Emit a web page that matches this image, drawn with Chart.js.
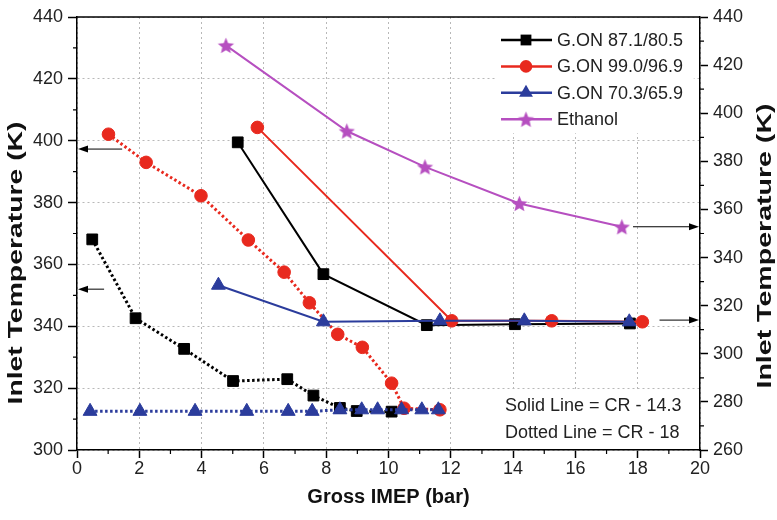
<!DOCTYPE html>
<html>
<head>
<meta charset="utf-8">
<script src="https://cdn.jsdelivr.net/npm/chart.js@4/dist/chart.umd.min.js"></script>
<style>
html, body { margin: 0; padding: 0; background: #fff; }
</style>
</head>
<body>
<canvas id="imepChart" width="777" height="520"></canvas>
<script>
// Dotted lines (CR 18) -> left axis
const xBlack18 = [0.49, 1.88, 3.44, 5.01, 6.75, 7.59, 8.44, 8.98, 10.1];
const tBlack18 = [368.1, 342.6, 332.7, 322.3, 322.9, 317.6, 313.6, 312.6, 312.4];
const xRed18 = [1.01, 2.22, 3.98, 5.5, 6.65, 7.46, 8.37, 9.16, 10.1, 10.5, 11.65];
const tRed18 = [402.1, 393.0, 382.2, 367.9, 357.5, 347.6, 337.4, 333.2, 321.6, 313.5, 313.0];
const xBlue18 = [0.42, 2.02, 3.79, 5.45, 6.78, 7.55, 8.44, 9.14, 9.65, 10.42, 11.07, 11.6];
const tBlue18 = [312.5, 312.5, 312.5, 312.5, 312.5, 312.5, 313.0, 313.0, 313.0, 313.0, 313.0, 313.0];

// Solid lines (CR 14.3) and ethanol -> right axis
const xBlack14 = [5.16, 7.91, 11.23, 14.06, 17.75];
const tBlack14 = [387.9, 333.1, 311.9, 312.3, 312.6];
const xRed14 = [5.79, 12.03, 15.24, 18.15];
const tRed14 = [394.1, 313.7, 313.7, 313.3];
const xBlue14 = [4.54, 7.91, 11.65, 14.36, 17.73];
const tBlue14 = [328.5, 313.3, 313.7, 313.7, 313.3];
const xEthanol = [4.78, 8.66, 11.17, 14.2, 17.49];
const tEthanol = [428.2, 392.6, 377.7, 362.5, 352.8];

const seriesLabels = ['G.ON 87.1/80.5', 'G.ON 99.0/96.9', 'G.ON 70.3/65.9', 'Ethanol'];
const noteLines = ['Solid Line = CR - 14.3', 'Dotted Line = CR - 18'];

// arrows pointing to the axis each group belongs to
const arrows = [
    { axis: 'y', y: 397.3, from: 1.45, to: 0 },
    { axis: 'y', y: 352, from: 0.87, to: 0 },
    { axis: 'y1', y: 352.8, from: 17.85, to: 20 },
    { axis: 'y1', y: 314, from: 18.7, to: 20 }
];

const BLACK = '#000000';
const RED = '#e8291e';
const BLUE = '#2b3c9c';
const MAGENTA = '#b64fc0';
const FONT = '"Liberation Sans", Arial, sans-serif';

function makeStar(color, r) {
    const c = document.createElement('canvas');
    const s = Math.ceil(r * 2 + 2);
    c.width = s;
    c.height = s;
    const g = c.getContext('2d');
    g.beginPath();
    for (let i = 0; i < 10; i++) {
        const rad = i % 2 === 0 ? r : r * 0.45;
        const a = -Math.PI / 2 + i * Math.PI / 5;
        const px = s / 2 + rad * Math.cos(a);
        const py = s / 2 + rad * Math.sin(a) + 0.8;
        if (i === 0) g.moveTo(px, py); else g.lineTo(px, py);
    }
    g.closePath();
    g.fillStyle = color;
    g.fill();
    return c;
}
const starImg = makeStar(MAGENTA, 8.5);

function series(label, xs, ts, color, style, radius, dotted, axis) {
    return {
        label: label,
        data: xs.map((x, i) => ({ x: x, y: ts[i] })),
        borderColor: color,
        backgroundColor: color,
        pointBackgroundColor: color,
        pointBorderColor: color,
        pointBorderWidth: 1,
        pointStyle: style,
        pointRadius: radius,
        pointHoverRadius: radius,
        borderWidth: dotted ? 3 : 2,
        borderDash: dotted ? [2.5, 2.5] : [],
        showLine: true,
        fill: false,
        tension: 0,
        yAxisID: axis
    };
}

// index 0 is drawn on top
const datasets = [
    series(seriesLabels[3], xEthanol, tEthanol, MAGENTA, starImg, 8, false, 'y1'),
    series(seriesLabels[2], xBlue14, tBlue14, BLUE, 'triangle', 8, false, 'y1'),
    series(seriesLabels[2], xBlue18, tBlue18, BLUE, 'triangle', 8, true, 'y'),
    series(seriesLabels[1], xRed14, tRed14, RED, 'circle', 6.3, false, 'y1'),
    series(seriesLabels[1], xRed18, tRed18, RED, 'circle', 6.3, true, 'y'),
    series(seriesLabels[0], xBlack14, tBlack14, BLACK, 'rect', 7.6, false, 'y1'),
    series(seriesLabels[0], xBlack18, tBlack18, BLACK, 'rect', 7.6, true, 'y')
];

const legendItems = [
    { label: seriesLabels[0], color: BLACK, style: 'rect' },
    { label: seriesLabels[1], color: RED, style: 'circle' },
    { label: seriesLabels[2], color: BLUE, style: 'triangle' },
    { label: seriesLabels[3], color: MAGENTA, style: 'star' }
];

function drawMarker(ctx, style, color, x, y) {
    ctx.fillStyle = color;
    ctx.beginPath();
    if (style === 'rect') {
        ctx.rect(x - 5.4, y - 5.4, 10.8, 10.8);
    } else if (style === 'circle') {
        ctx.arc(x, y, 6.3, 0, Math.PI * 2);
    } else if (style === 'triangle') {
        const r = 8;
        ctx.moveTo(x, y - r);
        ctx.lineTo(x + r * Math.sin(2 * Math.PI / 3), y + r / 2);
        ctx.lineTo(x - r * Math.sin(2 * Math.PI / 3), y + r / 2);
        ctx.closePath();
    } else if (style === 'star') {
        ctx.drawImage(starImg, x - starImg.width / 2, y - starImg.height / 2);
        return;
    }
    ctx.fill();
}

function drawStretchedTitle(ctx, text, cx, cy, len) {
    ctx.save();
    ctx.font = 'bold 20px ' + FONT;
    const w = ctx.measureText(text).width;
    ctx.translate(cx, cy);
    ctx.rotate(-Math.PI / 2);
    ctx.scale(len / w, 1);
    ctx.textAlign = 'center';
    ctx.textBaseline = 'middle';
    ctx.fillStyle = '#111';
    ctx.fillText(text, 0, 0);
    ctx.restore();
}

const decor = {
    id: 'decor',
    beforeDatasetsDraw(chart) {
        const { ctx, scales } = chart;
        const x = scales.x, y = scales.y;
        ctx.save();
        ctx.fillStyle = '#fff';
        // legend background
        ctx.fillRect(x.getPixelForValue(13.48), chart.chartArea.top + 1,
            x.getPixelForValue(19.8) - x.getPixelForValue(13.48),
            y.getPixelForValue(402.4) - chart.chartArea.top - 1);
        // note background
        ctx.fillRect(x.getPixelForValue(13.5), y.getPixelForValue(318.8),
            x.getPixelForValue(19.8) - x.getPixelForValue(13.5),
            y.getPixelForValue(300) - y.getPixelForValue(318.8) - 1);
        ctx.restore();
    },
    afterDraw(chart) {
        const { ctx, chartArea, scales } = chart;
        const x = scales.x, y = scales.y, y1 = scales.y1;
        ctx.save();

        // top frame line
        ctx.strokeStyle = '#000';
        ctx.lineWidth = 1.5;
        ctx.beginPath();
        ctx.moveTo(chartArea.left, chartArea.top);
        ctx.lineTo(chartArea.right, chartArea.top);
        ctx.stroke();

        // minor ticks
        ctx.lineWidth = 1.2;
        ctx.beginPath();
        for (let v = 1; v < 20; v += 2) {
            const px = x.getPixelForValue(v);
            ctx.moveTo(px, chartArea.bottom);
            ctx.lineTo(px, chartArea.bottom + 4);
        }
        for (let v = 310; v < 440; v += 20) {
            const py = y.getPixelForValue(v);
            ctx.moveTo(chartArea.left - 4, py);
            ctx.lineTo(chartArea.left, py);
        }
        for (let v = 270; v < 440; v += 20) {
            const py = y1.getPixelForValue(v);
            ctx.moveTo(chartArea.right, py);
            ctx.lineTo(chartArea.right + 4, py);
        }
        ctx.stroke();

        // arrows
        ctx.lineWidth = 1;
        ctx.fillStyle = '#000';
        arrows.forEach(a => {
            const sc = scales[a.axis];
            const py = sc.getPixelForValue(a.y);
            const x0 = x.getPixelForValue(a.from);
            const x1 = x.getPixelForValue(a.to) + (a.to < a.from ? 1 : -1);
            const dir = x1 > x0 ? 1 : -1;
            ctx.beginPath();
            ctx.moveTo(x0, py);
            ctx.lineTo(x1 - dir * 8, py);
            ctx.stroke();
            ctx.beginPath();
            ctx.moveTo(x1, py);
            ctx.lineTo(x1 - dir * 10, py - 3.5);
            ctx.lineTo(x1 - dir * 10, py + 3.5);
            ctx.closePath();
            ctx.fill();
        });

        // notes
        ctx.font = '18px ' + FONT;
        ctx.fillStyle = '#222';
        ctx.textAlign = 'left';
        ctx.textBaseline = 'middle';
        ctx.fillText(noteLines[0], x.getPixelForValue(13.74), y.getPixelForValue(314.3));
        ctx.fillText(noteLines[1], x.getPixelForValue(13.74), y.getPixelForValue(305.6));

        // legend
        legendItems.forEach((it, i) => {
            const ly = 40 + i * 26.4;
            ctx.strokeStyle = it.color;
            ctx.lineWidth = 2.5;
            ctx.beginPath();
            ctx.moveTo(501, ly);
            ctx.lineTo(552, ly);
            ctx.stroke();
            drawMarker(ctx, it.style, it.color, 526, ly);
            ctx.fillStyle = '#222';
            ctx.fillText(it.label, 557, ly + 1);
        });

        ctx.restore();

        // rotated axis titles (both read bottom to top)
        drawStretchedTitle(ctx, 'Inlet Temperature (K)', 16, 263, 283);
        drawStretchedTitle(ctx, 'Inlet Temperature (K)', 765, 246, 285);
    }
};

const gridColor = '#b8b8b8';
const tickFont = { family: FONT, size: 18 };

new Chart(document.getElementById('imepChart').getContext('2d'), {
    type: 'scatter',
    data: { datasets: datasets },
    options: {
        responsive: false,
        animation: false,
        layout: { padding: { top: 17, left: 0, right: 0, bottom: 0 } },
        plugins: {
            legend: { display: false },
            tooltip: { enabled: false }
        },
        scales: {
            x: {
                type: 'linear',
                min: 0,
                max: 20,
                afterFit: s => { s.height = 70; },
                ticks: { stepSize: 2, autoSkip: false, padding: 0, color: '#222', font: tickFont },
                grid: { color: gridColor, lineWidth: 1, tickColor: '#000', tickLength: 8, tickWidth: 1.5 },
                border: { color: '#000', width: 1.5, dash: [2, 3] },
                title: {
                    display: true,
                    text: 'Gross IMEP (bar)',
                    color: '#111',
                    font: { family: FONT, size: 20, weight: 'bold' },
                    padding: { top: 0, bottom: 11 }
                }
            },
            y: {
                type: 'linear',
                position: 'left',
                min: 300,
                max: 440,
                afterFit: s => { s.width = 77; },
                ticks: { stepSize: 20, autoSkip: false, padding: 5, color: '#222', font: tickFont },
                grid: { color: gridColor, lineWidth: 1, tickColor: '#000', tickLength: 9, tickWidth: 1.5 },
                border: { color: '#000', width: 1.5, dash: [2, 3] }
            },
            y1: {
                type: 'linear',
                position: 'right',
                min: 260,
                max: 440,
                afterFit: s => { s.width = 77; },
                ticks: { stepSize: 20, autoSkip: false, padding: 5, color: '#222', font: tickFont },
                grid: { drawOnChartArea: false, tickColor: '#000', tickLength: 8, tickWidth: 1.5 },
                border: { color: '#000', width: 1.5 }
            }
        }
    },
    plugins: [decor]
});
</script>
</body>
</html>
